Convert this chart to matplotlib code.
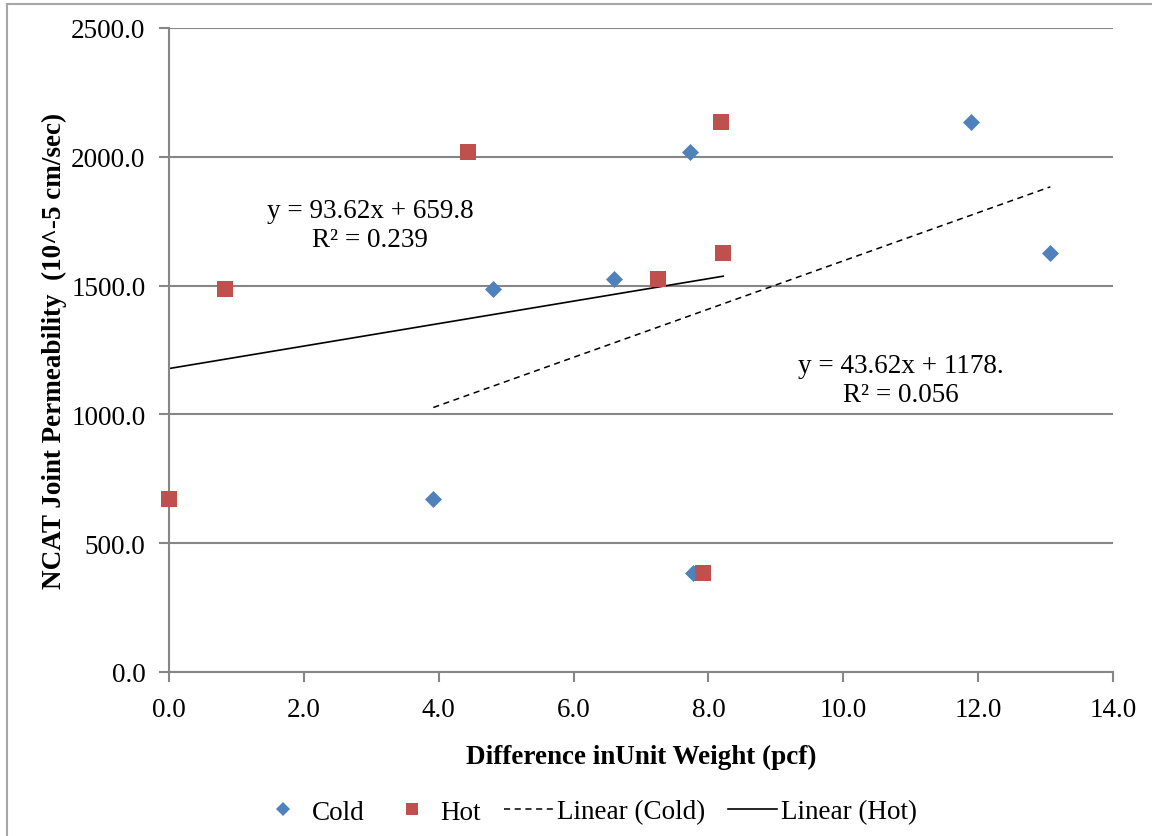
import numpy as np
import matplotlib
matplotlib.use("Agg")
import matplotlib.pyplot as plt
from matplotlib.lines import Line2D
from matplotlib.patches import Rectangle

# unit weight difference (pcf) vs NCAT joint permeability
cold_x = [3.92, 4.80, 6.60, 7.73, 7.77, 11.90, 13.07]
cold_y = [672, 1487, 1525, 2020, 385, 2135, 1628]
hot_x = [0.0, 0.83, 4.44, 7.25, 7.92, 8.18, 8.22]
hot_y = [672, 1487, 2020, 1525, 385, 2135, 1628]

# trendline coefficients as printed on the chart
cold_fit = (93.62, 659.8)
hot_fit = (43.62, 1178.0)
cold_eq = "y = 93.62x + 659.8\nR\u00b2 = 0.239"
hot_eq = "y = 43.62x + 1178.\nR\u00b2 = 0.056"

plt.rcParams['font.family'] = ['Liberation Serif', 'DejaVu Serif']
grid_col = "#868686"
fs = 19.5

fig = plt.figure(figsize=(11.52, 8.37), dpi=100)
ax = fig.add_axes([169/1152, 1 - 673/837, (1113 - 169)/1152, (673 - 29)/837])

ax.set_xlim(0, 14)
ax.set_ylim(0, 2500)
ax.set_xticks(np.arange(0, 14.1, 2))
ax.set_yticks(np.arange(0, 2501, 500))
ax.set_xticklabels([f"{v:.1f}" for v in np.arange(0, 14.1, 2)])
ax.set_yticklabels([f"{v:.1f}" for v in np.arange(0, 2501, 500)])
ax.yaxis.grid(True, color=grid_col, lw=1.5)
ax.set_axisbelow(True)
for s in ["top", "right"]:
    ax.spines[s].set_visible(False)
for s in ["left", "bottom"]:
    ax.spines[s].set_color(grid_col)
    ax.spines[s].set_linewidth(1.5)
ax.tick_params(axis="both", colors=grid_col, width=1.5, length=7,
               labelcolor="black", labelsize=fs)
ax.tick_params(axis="x", pad=11)
ax.tick_params(axis="y", pad=10)

ax.scatter(cold_x, cold_y, marker="D", s=75, color="#4F81BD", zorder=3,
           linewidths=0, clip_on=False)
ax.scatter(hot_x, hot_y, marker="s", s=120, color="#C0504D", zorder=3,
           linewidths=0, clip_on=False)

xc = np.array([min(cold_x), max(cold_x)])
ax.plot(xc, cold_fit[0] * xc + cold_fit[1], color="black", lw=1.1, ls=(0, (4, 3)), zorder=2)
xh = np.array([min(hot_x), max(hot_x)])
ax.plot(xh, hot_fit[0] * xh + hot_fit[1], color="black", lw=1.2, zorder=2)

ax.text(2.98, 1735, cold_eq, ha="center", va="center", fontsize=fs, linespacing=1.2)
ax.text(10.85, 1135, hot_eq, ha="center", va="center", fontsize=fs, linespacing=1.2)

ax.set_xlabel("Difference inUnit Weight (pcf)", fontsize=fs, fontweight="bold", labelpad=16)
ax.set_ylabel("NCAT Joint Permeability  (10^-5 cm/sec)", fontsize=fs, fontweight="bold", labelpad=3)

handles = [
    Line2D([], [], marker="D", ls="none", color="#4F81BD", ms=7, mew=0),
    Line2D([], [], marker="s", ls="none", color="#C0504D", ms=9, mew=0),
    Line2D([], [], color="black", lw=1.1, ls=(0, (4, 3))),
    Line2D([], [], color="black", lw=1.2),
]
fig.legend(handles, ["Cold", "Hot", "Linear (Cold)", "Linear (Hot)"],
           loc="center", bbox_to_anchor=(588/1152, 1 - 813/837), ncol=4,
           frameon=False, fontsize=fs, handlelength=1.8, handletextpad=0.15,
           columnspacing=0.85)

# chart border (left and top edges fall inside the image)
fig.patches.append(Rectangle((7/1152, -0.1), 1.5, 1 - 5/837 + 0.1,
                             transform=fig.transFigure, fill=False,
                             edgecolor="#A6A6A6", lw=1.5))

fig.savefig("out.png", dpi=100)
